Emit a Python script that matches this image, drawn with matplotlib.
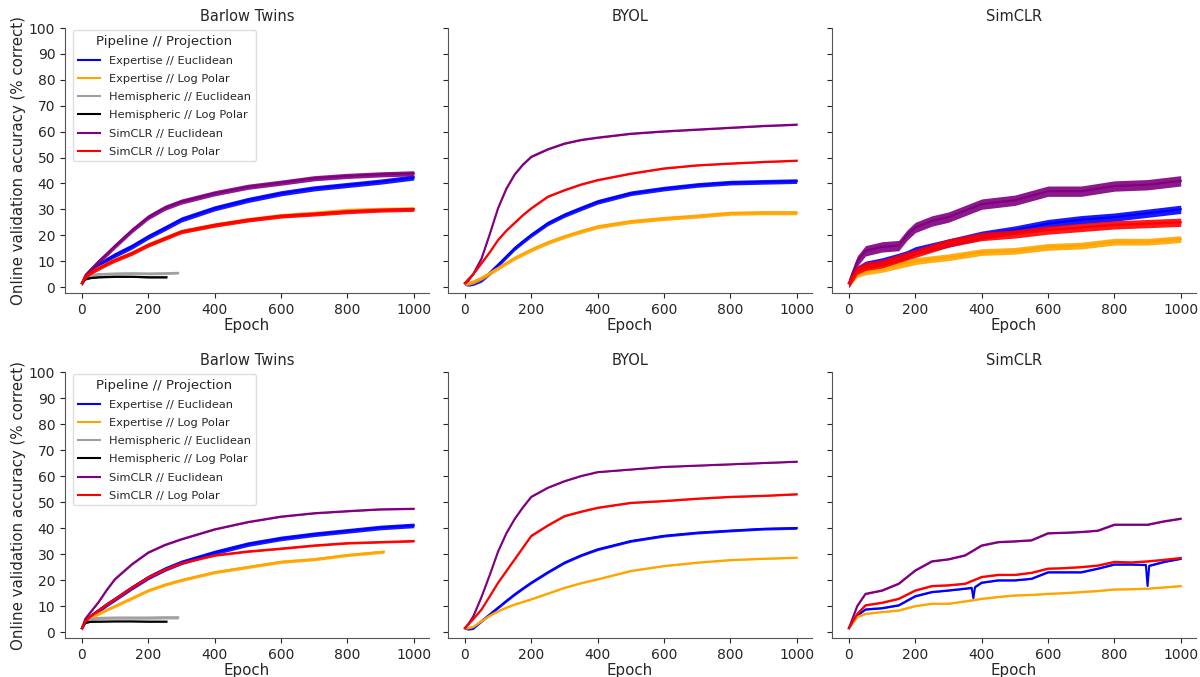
import matplotlib
matplotlib.use("Agg")
import matplotlib.pyplot as plt
import numpy as np

# ---------------- data ----------------
methods = ["Barlow Twins", "BYOL", "SimCLR"]
series_labels = ["Expertise // Euclidean", "Expertise // Log Polar",
                 "Hemispheric // Euclidean", "Hemispheric // Log Polar",
                 "SimCLR // Euclidean", "SimCLR // Log Polar"]
series_colors = ["blue", "orange", "#a0a0a0", "black", "purple", "red"]
x_ticks = [0, 200, 400, 600, 800, 1000]
y_ticks = [0, 10, 20, 30, 40, 50, 60, 70, 80, 90, 100]

# Row 1 ---------------------------------------------------------
r1_bt_x = [0, 10, 25, 50, 75, 100, 150, 200, 250, 300, 400, 500, 600, 700, 800, 900, 1000]
r1_bt_blue = [1.5, 4, 6, 8.5, 10.5, 12.4, 15.6, 19.4, 22.7, 26.1, 30.4, 33.6, 36.2, 38.1, 39.4, 40.7, 42.3]
r1_bt_orange = [1.5, 4, 5.5, 7.4, 9, 10.6, 13.2, 16.4, 19, 21.5, 24, 26, 27.6, 28.5, 29.6, 30, 30.2]
r1_bt_purple = [1.5, 4.5, 6.5, 9.8, 12.8, 15.9, 21.8, 27, 30.6, 33, 36.2, 38.7, 40.3, 42, 42.9, 43.5, 43.9]
r1_bt_red = [1.5, 4, 5.5, 7.2, 8.9, 10.4, 13, 16.2, 18.8, 21.4, 23.9, 25.9, 27.4, 28.2, 29.1, 29.7, 30]
r1_bt_gray_x = [0, 10, 25, 50, 100, 150, 200, 250, 290]
r1_bt_gray = [1.5, 3.5, 4.5, 5, 5.2, 5.3, 5.2, 5.3, 5.5]
r1_bt_black_x = [0, 10, 25, 50, 100, 150, 200, 255]
r1_bt_black = [1.5, 3, 3.5, 3.8, 4, 4, 3.8, 3.8]

r1_by_x = [0, 10, 25, 50, 75, 100, 125, 150, 175, 200, 250, 300, 350, 400, 500, 600, 700, 800, 900, 1000]
r1_by_blue = [1.5, 1.2, 1.5, 2.8, 5.5, 8.6, 11.8, 15, 17.6, 20.1, 24.6, 27.8, 30.4, 32.9, 36.2, 38, 39.4, 40.3, 40.6, 40.9]
r1_by_orange = [1.5, 1.5, 2, 3.5, 5.4, 7.3, 9.3, 11.2, 12.8, 14.4, 17.2, 19.5, 21.5, 23.3, 25.3, 26.5, 27.4, 28.5, 28.7, 28.7]
r1_by_purple = [1.5, 2.5, 5, 11, 20.5, 30.5, 38, 43.5, 47.3, 50.3, 53.2, 55.4, 56.8, 57.7, 59.2, 60.1, 60.8, 61.5, 62.2, 62.7]
r1_by_red = [1.5, 3, 5, 9.2, 13.5, 18.2, 21.8, 24.8, 27.8, 30.4, 34.9, 37.4, 39.6, 41.3, 43.8, 45.8, 47, 47.7, 48.3, 48.8]

r1_sc_x = [0, 25, 50, 100, 150, 175, 200, 250, 300, 400, 500, 600, 700, 800, 900, 1000]
r1_sc_blue = [1.5, 6.5, 8.4, 9.7, 11.5, 12.5, 14, 15.5, 17, 20, 22, 24.5, 26, 27, 28.5, 30]
r1_sc_orange = [1.5, 5, 6, 7, 8.5, 9.2, 10, 10.8, 11.5, 13.5, 14, 15.5, 16, 17.5, 17.5, 18.5]
r1_sc_purple = [1.5, 10, 14, 15.5, 16, 20, 23, 25.5, 27, 32, 33.5, 37, 37, 39, 39.5, 41]
r1_sc_red = [1.5, 6.5, 8, 9, 11, 12, 13, 15, 17, 19.5, 20.5, 22, 23, 24, 24.5, 25]

# Row 2 ---------------------------------------------------------
r2_bt_x = [0, 10, 25, 50, 75, 100, 150, 200, 250, 300, 400, 500, 600, 700, 800, 900, 1000]
r2_bt_blue = [1.5, 4, 6, 8.3, 10.6, 12.7, 17, 21, 24.2, 26.8, 30.6, 33.8, 36, 37.6, 38.9, 40.2, 41]
r2_bt_purple = [1.5, 5, 7.5, 11.5, 16.2, 20.4, 26, 30.6, 33.5, 35.7, 39.5, 42.3, 44.4, 45.7, 46.5, 47.2, 47.4]
r2_bt_red = [1.5, 4, 6, 8.3, 10.6, 12.7, 17, 21, 24, 26.5, 29.5, 31, 32.1, 33.3, 34.2, 34.6, 35]
r2_bt_orange_x = [0, 10, 25, 50, 75, 100, 150, 200, 250, 300, 400, 500, 600, 700, 800, 910]
r2_bt_orange = [1.5, 4, 5.5, 7, 8.6, 10, 13, 16, 18.2, 20, 23, 25, 27, 28, 29.6, 30.9]
r2_bt_gray_x = [0, 10, 25, 50, 100, 150, 200, 250, 290]
r2_bt_gray = [1.5, 4, 4.8, 5.4, 5.5, 5.5, 5.5, 5.6, 5.6]
r2_bt_black_x = [0, 10, 25, 50, 100, 150, 200, 255]
r2_bt_black = [1.5, 3.5, 3.9, 4, 4.1, 4.1, 4, 4]

r2_by_x = [0, 10, 25, 50, 75, 100, 125, 150, 175, 200, 250, 300, 350, 400, 500, 600, 700, 800, 900, 1000]
r2_by_blue = [1.5, 1.2, 1.5, 4.2, 6.8, 9.4, 12, 14.5, 16.8, 19, 23, 26.7, 29.5, 31.8, 35, 37, 38.2, 39, 39.7, 40]
r2_by_orange = [1.5, 1.5, 2, 4.2, 6.3, 8, 9.4, 10.6, 11.6, 12.6, 14.8, 17, 18.8, 20.3, 23.5, 25.4, 26.7, 27.7, 28.2, 28.6]
r2_by_purple = [1.5, 3, 6, 13.5, 22, 31, 38, 43.5, 48, 52, 55.5, 58, 60, 61.5, 62.5, 63.5, 64, 64.5, 65, 65.5]
r2_by_red = [1.5, 3, 5, 8.7, 13.8, 19, 23.5, 28, 32.5, 37, 41, 44.6, 46.3, 47.8, 49.7, 50.4, 51.3, 52, 52.4, 53]

r2_sc_x = [0, 25, 50, 100, 150, 200, 250, 300, 350, 400, 450, 500, 550, 600, 650, 700, 750, 800, 850, 900, 950, 1000]
r2_sc_orange = [1.5, 5.8, 7, 7.7, 8.3, 10, 10.9, 10.9, 11.8, 12.8, 13.5, 14.1, 14.3, 14.7, 15, 15.4, 15.8, 16.4, 16.5, 16.7, 17.2, 17.7]
r2_sc_purple = [1.5, 10, 14.7, 16, 18.6, 23.7, 27.2, 28, 29.5, 33.3, 34.6, 34.9, 35.3, 38, 38.2, 38.5, 39, 41.3, 41.3, 41.3, 42.6, 43.6]
r2_sc_red = [1.5, 7, 10.3, 11.3, 12.8, 16, 17.7, 18, 18.6, 21.2, 22, 22, 22.8, 24.4, 24.6, 25, 25.6, 27, 26.8, 27.2, 27.8, 28.5]
r2_sc_blue_x = [0, 25, 50, 100, 150, 200, 250, 300, 350, 370, 375, 380, 400, 450, 500, 550, 600, 650, 700, 750, 800, 850, 895, 900, 905, 950, 1000]
r2_sc_blue = [1.5, 6.4, 8.7, 9.2, 10.3, 13.8, 15.4, 16, 16.7, 17, 13, 17.3, 19, 19.9, 19.9, 20.5, 23, 23, 23, 24.4, 26, 26, 25.8, 17.7, 25.5, 27, 28.2]

# half-width of the noise band seen around each curve
r1_spread = {"Barlow Twins": [1.0, 0.8, 0.5, 0.3, 1.0, 0.8],
             "BYOL": [0.9, 0.8, 0, 0, 0.3, 0.3],
             "SimCLR": [1.6, 1.3, 0, 0, 2.0, 1.6]}
r2_spread = {"Barlow Twins": [0.9, 0.6, 0.6, 0.2, 0.3, 0.4],
             "BYOL": [0.5, 0.3, 0, 0, 0.2, 0.3],
             "SimCLR": [0.3, 0.3, 0, 0, 0.3, 0.3]}

rows = [
    {"Barlow Twins": [(r1_bt_x, r1_bt_blue), (r1_bt_x, r1_bt_orange), (r1_bt_gray_x, r1_bt_gray),
                      (r1_bt_black_x, r1_bt_black), (r1_bt_x, r1_bt_purple), (r1_bt_x, r1_bt_red)],
     "BYOL": [(r1_by_x, r1_by_blue), (r1_by_x, r1_by_orange), None, None,
              (r1_by_x, r1_by_purple), (r1_by_x, r1_by_red)],
     "SimCLR": [(r1_sc_x, r1_sc_blue), (r1_sc_x, r1_sc_orange), None, None,
                (r1_sc_x, r1_sc_purple), (r1_sc_x, r1_sc_red)]},
    {"Barlow Twins": [(r2_bt_x, r2_bt_blue), (r2_bt_orange_x, r2_bt_orange), (r2_bt_gray_x, r2_bt_gray),
                      (r2_bt_black_x, r2_bt_black), (r2_bt_x, r2_bt_purple), (r2_bt_x, r2_bt_red)],
     "BYOL": [(r2_by_x, r2_by_blue), (r2_by_x, r2_by_orange), None, None,
              (r2_by_x, r2_by_purple), (r2_by_x, r2_by_red)],
     "SimCLR": [(r2_sc_blue_x, r2_sc_blue), (r2_sc_x, r2_sc_orange), None, None,
                (r2_sc_x, r2_sc_purple), (r2_sc_x, r2_sc_red)]},
]
spreads = [r1_spread, r2_spread]

# ---------------- figure ----------------
TXT = "#262626"
plt.rcParams.update({
    "font.family": ["DejaVu Sans"],
    "text.color": TXT, "axes.labelcolor": TXT,
    "xtick.color": TXT, "ytick.color": TXT,
    "axes.edgecolor": "#555555",
})

W, H = 1200, 677
fig = plt.figure(figsize=(W / 100, H / 100), dpi=100)

col_left = [65, 448, 832]
col_width = 364
row_box = [(28, 293), (372, 638)]  # (top, bottom) in pixels

for r, (top, bot) in enumerate(row_box):
    for c, m in enumerate(methods):
        ax = fig.add_axes([col_left[c] / W, (H - bot) / H, col_width / W, (bot - top) / H])
        for k, data in enumerate(rows[r][m]):
            if data is None:
                continue
            xs, ys = np.asarray(data[0], float), np.asarray(data[1], float)
            sp = spreads[r][m][k]
            if sp > 0:
                ax.fill_between(xs, ys - sp, ys + sp, color=series_colors[k], lw=0,
                                alpha=0.9, zorder=2 + k * 0.1)
            ax.plot(xs, ys, color=series_colors[k], lw=1.5, label=series_labels[k],
                    zorder=2 + k * 0.1, solid_joinstyle="round")
        ax.set_xlim(-51, 1046)
        ax.set_ylim(-2.3, 100)
        ax.set_xticks(x_ticks)
        ax.set_yticks(y_ticks)
        ax.tick_params(labelsize=10, length=3.5, width=0.8)
        ax.spines["top"].set_visible(False)
        ax.spines["right"].set_visible(False)
        ax.set_title(m, fontsize=10.5, pad=5)
        ax.set_xlabel("Epoch", fontsize=10.8, labelpad=1)
        if c == 0:
            ax.set_ylabel("Online validation accuracy (% correct)", fontsize=10.8, labelpad=2)
            handles = [plt.Line2D([], [], color=col, lw=1.5) for col in series_colors]
            leg = ax.legend(handles, series_labels, title="Pipeline // Projection",
                            loc="upper left", bbox_to_anchor=(73 / W, 1 - (top + 2) / H),
                            bbox_transform=fig.transFigure, borderaxespad=0,
                            fontsize=8.2, title_fontsize=9.5, framealpha=1,
                            labelspacing=0.72, edgecolor="#dddddd", fancybox=True)
            leg.get_title().set_color(TXT)
        else:
            ax.tick_params(labelleft=False)

fig.savefig("out.png", dpi=100)
